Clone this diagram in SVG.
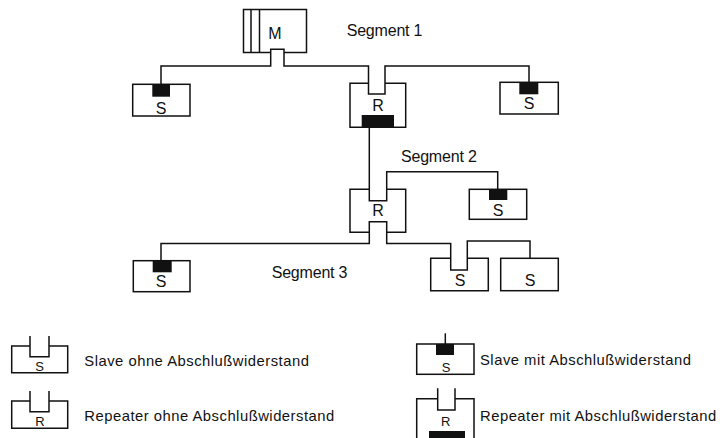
<svg xmlns="http://www.w3.org/2000/svg" width="726" height="438" viewBox="0 0 726 438">
<style>
.ln{fill:none;stroke:#111;stroke-width:1.5;stroke-linejoin:miter}
.blk{fill:#111}
.t{font-family:"Liberation Sans",Arial,sans-serif;fill:#111}
.seg{font-size:16px;letter-spacing:-0.2px}
.box{font-size:16px;text-anchor:middle}
.leg{font-size:14.8px;letter-spacing:0.5px}
.lbox{font-size:13px;text-anchor:middle}
</style>
<rect width="726" height="438" fill="#fff"/>
<g id="connectors">
<path class="ln" d="M161,84.3 V66 H270.7 V49.3 H284 V66 H368.5 V94 H385 V66 H529 V82.3"/>
<path class="ln" d="M369.3,127.3 V200.7 H386.7 V171.7 H497.7 V189.3"/>
<path class="ln" d="M161,260.7 V243.5 H369.3 V221.7 H386.7 V243.5 H450.7 V270 H467.3 V241 H530 V258.3"/>
</g>
<g id="master">
<path class="ln" d="M270.7,52.5 H243.5 V9.5 H306.5 V52.5 H284"/>
<path class="ln" d="M251,9.5 V52.5 M259.5,9.5 V52.5"/>
<text class="t box" x="275" y="39">M</text>
</g>
<text id="seg1" class="t seg" x="346.7" y="35.7">Segment 1</text>
<g id="s1a">
<rect class="ln" x="132.7" y="84.3" width="57.3" height="31.7"/>
<rect class="blk" x="152.3" y="84.3" width="17.7" height="12.4"/>
<text class="t box" x="161" y="114">S</text>
</g>
<g id="r1">
<path class="ln" d="M368.5,83.3 H350 V127.3 H405.7 V83.3 H385"/>
<rect class="blk" x="361.7" y="115" width="32.3" height="12.3"/>
<text class="t box" x="378" y="111">R</text>
</g>
<g id="s1b">
<rect class="ln" x="500" y="82.3" width="58.3" height="31.7"/>
<rect class="blk" x="519.3" y="82.3" width="19" height="12"/>
<text class="t box" x="529" y="108.5">S</text>
</g>
<text id="seg2" class="t seg" x="401" y="161.7">Segment 2</text>
<g id="r2">
<path class="ln" d="M369.3,189.3 H350 V232.3 H369.3 M386.7,232.3 H405.7 V189.3 H386.7"/>
<text class="t box" x="378" y="215.7">R</text>
</g>
<g id="s2">
<rect class="ln" x="469.3" y="189.3" width="57.4" height="30"/>
<rect class="blk" x="489" y="189.3" width="18.3" height="10.7"/>
<text class="t box" x="498" y="216">S</text>
</g>
<text id="seg3" class="t seg" x="271.7" y="278.3">Segment 3</text>
<g id="s3a">
<rect class="ln" x="133.3" y="260.7" width="56.7" height="31"/>
<rect class="blk" x="152.7" y="260.7" width="19" height="11.6"/>
<text class="t box" x="161" y="286.7">S</text>
</g>
<g id="s3b">
<path class="ln" d="M450.7,258.3 H430.7 V290.7 H488.3 V258.3 H467.3"/>
<text class="t box" x="460" y="285.7">S</text>
</g>
<g id="s3c">
<rect class="ln" x="500.7" y="258.3" width="57.6" height="32.4"/>
<text class="t box" x="530" y="285.7">S</text>
</g>
<g id="legend-slave-ohne">
<path class="ln" d="M30,346 H11.7 V372.7 H67.7 V346 H49 M30,336 V356.7 H49 V336"/>
<text class="t lbox" x="39.5" y="370.7">S</text>
<text class="t leg" x="84.3" y="365.7">Slave ohne Abschlußwiderstand</text>
</g>
<g id="legend-repeater-ohne">
<path class="ln" d="M30,401 H11.7 V428.3 H67.7 V401 H49 M30,391 V411.7 H49 V391"/>
<text class="t lbox" x="40" y="426">R</text>
<text class="t leg" x="84.3" y="420.7">Repeater ohne Abschlußwiderstand</text>
</g>
<g id="legend-slave-mit">
<rect class="ln" x="416.7" y="344" width="57.3" height="30.3"/>
<rect class="blk" x="436" y="344" width="18" height="11"/>
<path class="ln" d="M445.3,333.3 V344"/>
<text class="t lbox" x="446" y="371.7">S</text>
<text class="t leg" x="480" y="365">Slave mit Abschlußwiderstand</text>
</g>
<g id="legend-repeater-mit">
<path class="ln" d="M437.7,398.7 H416.7 V440 M474,440 V398.7 H455 M437.7,388.3 V410 H455 V388.3"/>
<rect class="blk" x="429" y="431" width="36" height="8"/>
<text class="t lbox" x="445.7" y="425.7">R</text>
<text class="t leg" x="480" y="420.7">Repeater mit Abschlußwiderstand</text>
</g>
</svg>
